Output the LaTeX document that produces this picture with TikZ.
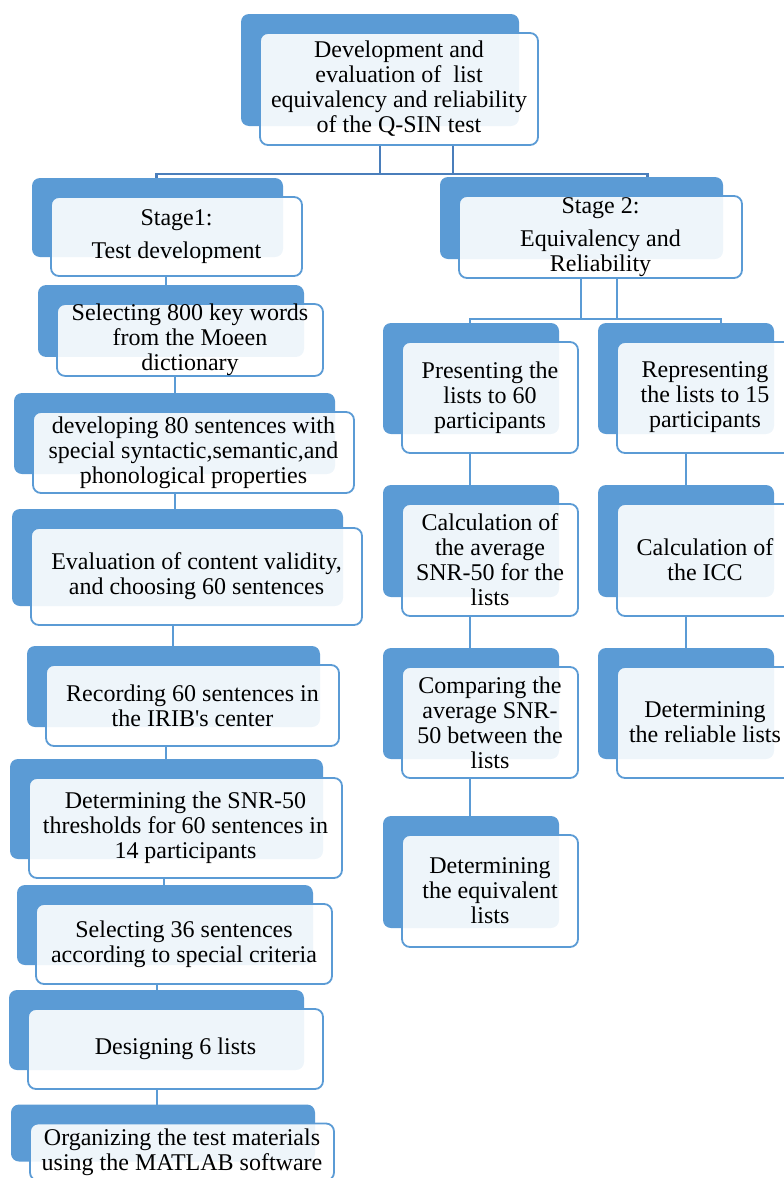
\documentclass[tikz,border=0pt]{standalone}
\usepackage{fontspec}
\newfontfamily\boxfont{Liberation Serif}
\usetikzlibrary{shadows,backgrounds}
\definecolor{boxblue}{RGB}{91,155,213}
\definecolor{linkblue}{RGB}{74,126,187}
\tikzset{
  box/.style={draw=boxblue,line width=1.8pt,rounded corners=8pt,fill=white,
    fill opacity=0.9,text opacity=1,align=center,inner sep=0pt,
    font=\boxfont\fontsize{24}{25}\selectfont,
    copy shadow={shadow xshift=-19pt,shadow yshift=19pt,draw=none,
      fill=boxblue,fill opacity=1}},
  link/.style={draw=boxblue,line width=2pt},
  toplink/.style={draw=linkblue,line width=2.2pt}
}

\begin{document}
\begin{tikzpicture}[x=1pt,y=-1pt]
  \useasboundingbox (0,0) rectangle (784,1178);
  \clip (0,0) rectangle (784,1178);

  \node[box,minimum width=278pt,minimum height=112pt] (root) at (399,89)
    {Development and\\evaluation of\ \ list\\equivalency and reliability\\of the Q-SIN test};

  % stage 1
  \node[box,minimum width=251pt,minimum height=79pt] (stage1) at (176.5,236.5)
    {Stage1:\\[8pt]Test development};
  \node[box,minimum width=266pt,minimum height=68pt] (words) at (190,340)
    {Selecting 800 key words\\from the Moeen\\dictionary};
  \node[box,minimum width=321pt,minimum height=81pt] (sentences) at (193.5,452.5)
    {developing 80 sentences with\\special syntactic,semantic,and\\phonological properties};
  \node[box,minimum width=331pt,minimum height=97pt] (validity) at (196.5,576.5)
    {Evaluation of content validity,\\and choosing 60 sentences};
  \node[box,minimum width=293pt,minimum height=81pt] (recording) at (192.5,705.5)
    {Recording 60 sentences in\\the IRIB's center};
  \node[box,minimum width=313pt,minimum height=100pt] (thresholds) at (185.5,828)
    {Determining the SNR-50\\thresholds for 60 sentences in\\14 participants};
  \node[box,minimum width=296pt,minimum height=80pt] (criteria) at (184,944)
    {Selecting 36 sentences\\according to special criteria};
  \node[box,minimum width=295pt,minimum height=80pt] (lists) at (175.5,1049)
    {Designing 6 lists};
  \node[box,minimum width=304pt,minimum height=57pt] (software) at (182,1152)
    {Organizing the test materials\\using the MATLAB software};

  % stage 2
  \node[box,minimum width=283pt,minimum height=82pt] (stage2) at (600.5,237)
    {Stage 2:\\[8pt]Equivalency and\\Reliability};
  \node[box,minimum width=176pt,minimum height=111pt] (presenting) at (490,397.5)
    {Presenting the\\lists to 60\\participants};
  \node[box,minimum width=176pt,minimum height=112pt] (average) at (490,560)
    {Calculation of\\the average\\SNR-50 for the\\lists};
  \node[box,minimum width=176pt,minimum height=111pt] (comparing) at (490,722.5)
    {Comparing the\\average SNR-\\50 between the\\lists};
  \node[box,minimum width=176pt,minimum height=112pt] (equivalent) at (490,891)
    {Determining\\the equivalent\\lists};
  \node[box,minimum width=176pt,minimum height=111pt] (representing) at (705,397.5)
    {Representing\\the lists to 15\\participants};
  \node[box,minimum width=176pt,minimum height=112pt] (icc) at (705,560)
    {Calculation of\\the ICC};
  \node[box,minimum width=176pt,minimum height=111pt] (reliable) at (705,722.5)
    {Determining\\the reliable lists};

  \begin{scope}[on background layer]
    \draw[toplink] ([xshift=54pt]root.south) |- ([xshift=-20pt,yshift=22pt]stage1.north)
      -- ([xshift=-20pt]stage1.north);
    \draw[toplink] ([xshift=-19pt]root.south) |- ([xshift=47pt,yshift=21pt]stage2.north)
      -- ([xshift=47pt]stage2.north);
    \draw[link] ([xshift=16.5pt]stage2.south) |- ([xshift=-20pt,yshift=22pt]presenting.north)
      -- ([xshift=-20pt]presenting.north);
    \draw[link] ([xshift=-19.5pt]stage2.south) |- ([xshift=16pt,yshift=22pt]representing.north)
      -- ([xshift=16pt]representing.north);
    \foreach \a/\b/\s in {stage1/words/-24,words/sentences/-18.5,sentences/validity/-21.5,
        validity/recording/-19.5,recording/thresholds/-19.5,thresholds/criteria/-20,
        criteria/lists/-18.5,lists/software/-25,presenting/average/-20,
        average/comparing/-20,comparing/equivalent/-20,representing/icc/-19,icc/reliable/-19}
      \draw[link] ([xshift=\s pt]\b.north) -- ([xshift=\s pt]\b.north |- \a.south);
  \end{scope}
\end{tikzpicture}
\end{document}
